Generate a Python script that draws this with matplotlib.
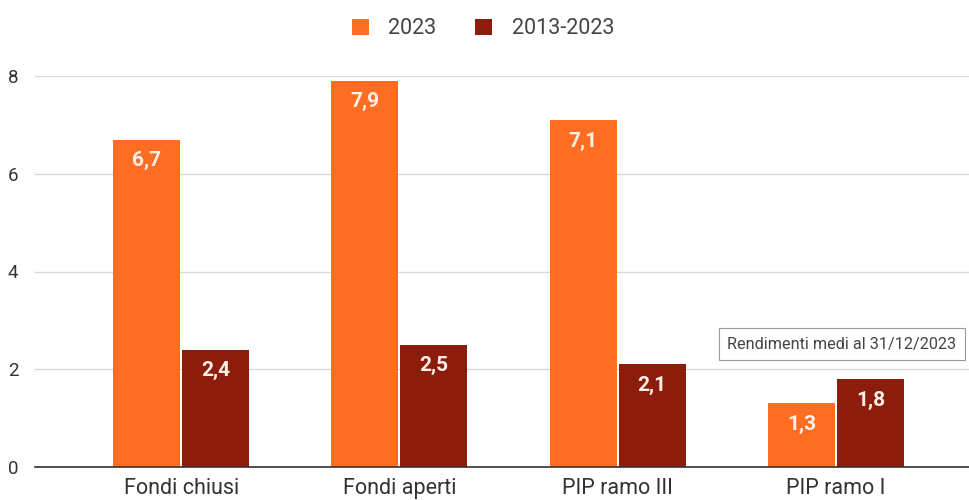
import matplotlib
matplotlib.use("Agg")
import matplotlib.pyplot as plt
import numpy as np

categories = ["Fondi chiusi", "Fondi aperti", "PIP ramo III", "PIP ramo I"]
series_names = ["2023", "2013-2023"]
values_2023 = [6.7, 7.9, 7.1, 1.3]
values_decade = [2.4, 2.5, 2.1, 1.8]
yticks = [0, 2, 4, 6, 8]
note = "Rendimenti medi al 31/12/2023"

c_orange = "#FF6D23"
c_dark = "#8C1C0B"

plt.rcParams['font.family'] = ['Roboto', 'DejaVu Sans']

fig = plt.figure(figsize=(9.69, 5.0), dpi=100)
W, H = 969, 500
ax_left, ax_right, ax_top, ax_bottom = 35, 969, 76, 467
ax = fig.add_axes([ax_left / W, 1 - ax_bottom / H,
                   (ax_right - ax_left) / W, (ax_bottom - ax_top) / H])

x = np.arange(len(categories))
bw = 0.307
gap = 0.009
b1 = ax.bar(x - (bw + gap) / 2, values_2023, width=bw, color=c_orange, zorder=3)
b2 = ax.bar(x + (bw + gap) / 2, values_decade, width=bw, color=c_dark, zorder=3)

for bars, vals in ((b1, values_2023), (b2, values_decade)):
    for rect, v in zip(bars, vals):
        ax.annotate(f"{v:.1f}".replace(".", ","),
                    (rect.get_x() + rect.get_width() / 2, v),
                    xytext=(0, -21), textcoords="offset pixels",
                    ha="center", va="center", color="#FFF0E8",
                    fontsize=15, fontweight="bold", zorder=4)

ax.set_xlim(-0.67, 3.61)
ax.set_ylim(0, 8)
ax.set_yticks(yticks)
ax.set_yticklabels([str(t) for t in yticks])
ax.set_xticks(x)
ax.set_xticklabels(categories)
ax.grid(axis="y", color="#D8D8D8", linewidth=1, zorder=0)
ax.tick_params(axis="both", length=0, colors="#333333")
ax.tick_params(axis="y", pad=12, labelsize=13.5)
ax.tick_params(axis="x", pad=8, labelsize=15.5)
for s in ("top", "right", "left"):
    ax.spines[s].set_visible(False)
ax.spines["bottom"].set_color("#333333")
ax.spines["bottom"].set_linewidth(1.2)
ax.spines["bottom"].set_zorder(5)

leg = fig.legend(handles=[b1, b2], labels=series_names, loc="center",
                 bbox_to_anchor=(483 / W, 1 - 29 / H), ncol=2, frameon=False,
                 fontsize=15.5, handlelength=0.8, handleheight=0.8,
                 columnspacing=1.8, handletextpad=0.9)
for t in leg.get_texts():
    t.set_color("#444444")

fig.text(842 / W, 1 - 344 / H, note, ha="center", va="center", fontsize=11.7,
         color="#444444",
         bbox=dict(boxstyle="square,pad=0.5", facecolor="white",
                   edgecolor="#999999", linewidth=0.8))

fig.savefig("out.png", dpi=100)
